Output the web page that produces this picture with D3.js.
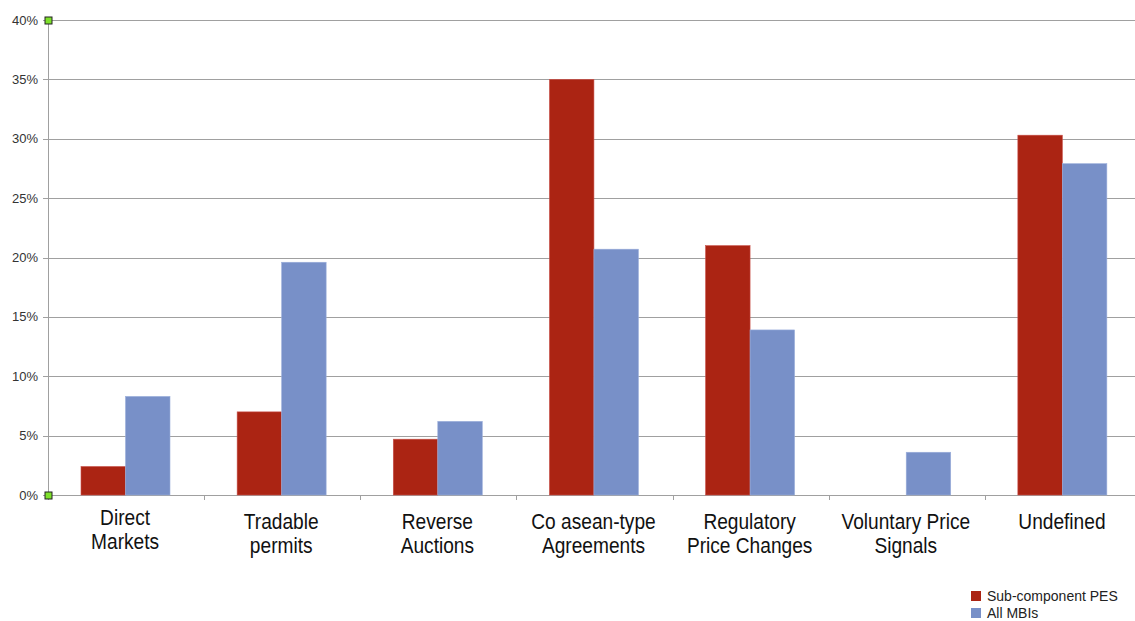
<!DOCTYPE html>
<html lang="en">
<head>
<meta charset="UTF-8">
<title>PES vs MBIs</title>
<script src="https://d3js.org/d3.v7.min.js"></script>
<style>
  body { margin: 0; background: #fff; }
  svg { display: block; }
</style>
</head>
<body>
<svg id="chart"></svg>
<script>
// categories (line-split labels) and series values in percent
const categories = [
  ["Direct", "Markets"],
  ["Tradable", "permits"],
  ["Reverse", "Auctions"],
  ["Co asean-type", "Agreements"],
  ["Regulatory", "Price Changes"],
  ["Voluntary Price", "Signals"],
  ["Undefined"]
];
const seriesNames = ["Sub-component PES", "All MBIs"];
const pesValues = [2.4, 7.0, 4.7, 35.0, 21.0, 0, 30.3];
const mbiValues = [8.3, 19.6, 6.2, 20.7, 13.9, 3.6, 27.9];
const yTicks = [0, 5, 10, 15, 20, 25, 30, 35, 40];
const colors = ["#ab2413", "#7890c8"];

const W = 1135, H = 621;
const svg = d3.select("#chart").attr("width", W).attr("height", H);

const plotLeft = 48, plotTop = 20, plotBottom = 495, plotRight = 1141;
const keys = categories.map((c, i) => i);

const x = d3.scaleBand().domain(keys).range([plotLeft, plotRight]).paddingInner(0).paddingOuter(0);
const x1 = d3.scaleBand().domain([0, 1]).range([33, 33 + 89]);
const y = d3.scaleLinear().domain([0, 40]).range([plotBottom, plotTop]);

// gridlines
svg.append("g")
  .selectAll("line")
  .data(yTicks)
  .join("line")
    .attr("x1", plotLeft - 5)
    .attr("x2", W)
    .attr("y1", d => Math.round(y(d)) + 0.5)
    .attr("y2", d => Math.round(y(d)) + 0.5)
    .attr("stroke", "#a0a0a0")
    .attr("stroke-width", 1);

// y labels
svg.append("g")
  .selectAll("text")
  .data(yTicks)
  .join("text")
    .attr("x", 38)
    .attr("y", d => y(d) + 4.5)
    .attr("text-anchor", "end")
    .attr("font-family", "Liberation Sans, Arial, sans-serif")
    .attr("font-size", 13)
    .attr("fill", "#333")
    .text(d => d + "%");

// bars
const rows = keys.map(i => ({ i, vals: [pesValues[i], mbiValues[i]] }));
svg.append("g")
  .selectAll("g")
  .data(rows)
  .join("g")
    .attr("transform", d => `translate(${x(d.i)},0)`)
  .selectAll("rect")
  .data(d => d.vals.map((v, k) => ({ v, k })))
  .join("rect")
    .attr("x", d => x1(d.k))
    .attr("y", d => y(d.v))
    .attr("width", x1.bandwidth())
    .attr("height", d => y(0) - y(d.v))
    .attr("fill", d => colors[d.k])
    .attr("stroke", d => d.k === 0 ? "#c9504a" : "#9aaedb")
    .attr("stroke-width", d => d.v > 0 ? 0.6 : 0);

// y axis line
svg.append("line")
  .attr("x1", plotLeft + 0.5).attr("x2", plotLeft + 0.5)
  .attr("y1", plotTop).attr("y2", plotBottom + 5)
  .attr("stroke", "#a0a0a0");

// x category ticks
svg.append("g")
  .selectAll("line")
  .data(keys.slice(1))
  .join("line")
    .attr("x1", d => Math.round(x(d)) + 0.5)
    .attr("x2", d => Math.round(x(d)) + 0.5)
    .attr("y1", plotBottom)
    .attr("y2", plotBottom + 5)
    .attr("stroke", "#a0a0a0");

// x labels (condensed horizontally to mimic a narrow face)
const labels = svg.append("g")
  .selectAll("text")
  .data(keys)
  .join("text")
    .attr("transform", d => `translate(${x(d) + x.bandwidth() / 2 - 1},${d === 0 ? 525 : 529}) scale(0.87,1)`)
    .attr("text-anchor", "middle")
    .attr("font-family", "Liberation Sans, Arial, sans-serif")
    .attr("font-size", 22)
    .attr("fill", "#111");
labels.selectAll("tspan")
  .data(d => categories[d])
  .join("tspan")
    .attr("x", 0)
    .attr("dy", (d, i) => i === 0 ? 0 : 24.5)
    .text(d => d);

// green markers at the y axis ends
svg.append("g")
  .selectAll("rect")
  .data([40, 0])
  .join("rect")
    .attr("x", plotLeft - 3)
    .attr("y", d => y(d) - 3)
    .attr("width", 7)
    .attr("height", 7)
    .attr("fill", "#7ee12b")
    .attr("stroke", "#222")
    .attr("stroke-width", 1);

// legend
const legend = svg.append("g")
  .selectAll("g")
  .data(seriesNames)
  .join("g")
    .attr("transform", (d, i) => `translate(971,${591 + i * 17})`);
legend.append("rect")
  .attr("width", 10).attr("height", 10)
  .attr("fill", (d, i) => colors[i]);
legend.append("text")
  .attr("x", 16)
  .attr("y", 10)
  .attr("font-family", "Liberation Sans, Arial, sans-serif")
  .attr("font-size", 14)
  .attr("fill", "#222")
  .text(d => d);
</script>
</body>
</html>
